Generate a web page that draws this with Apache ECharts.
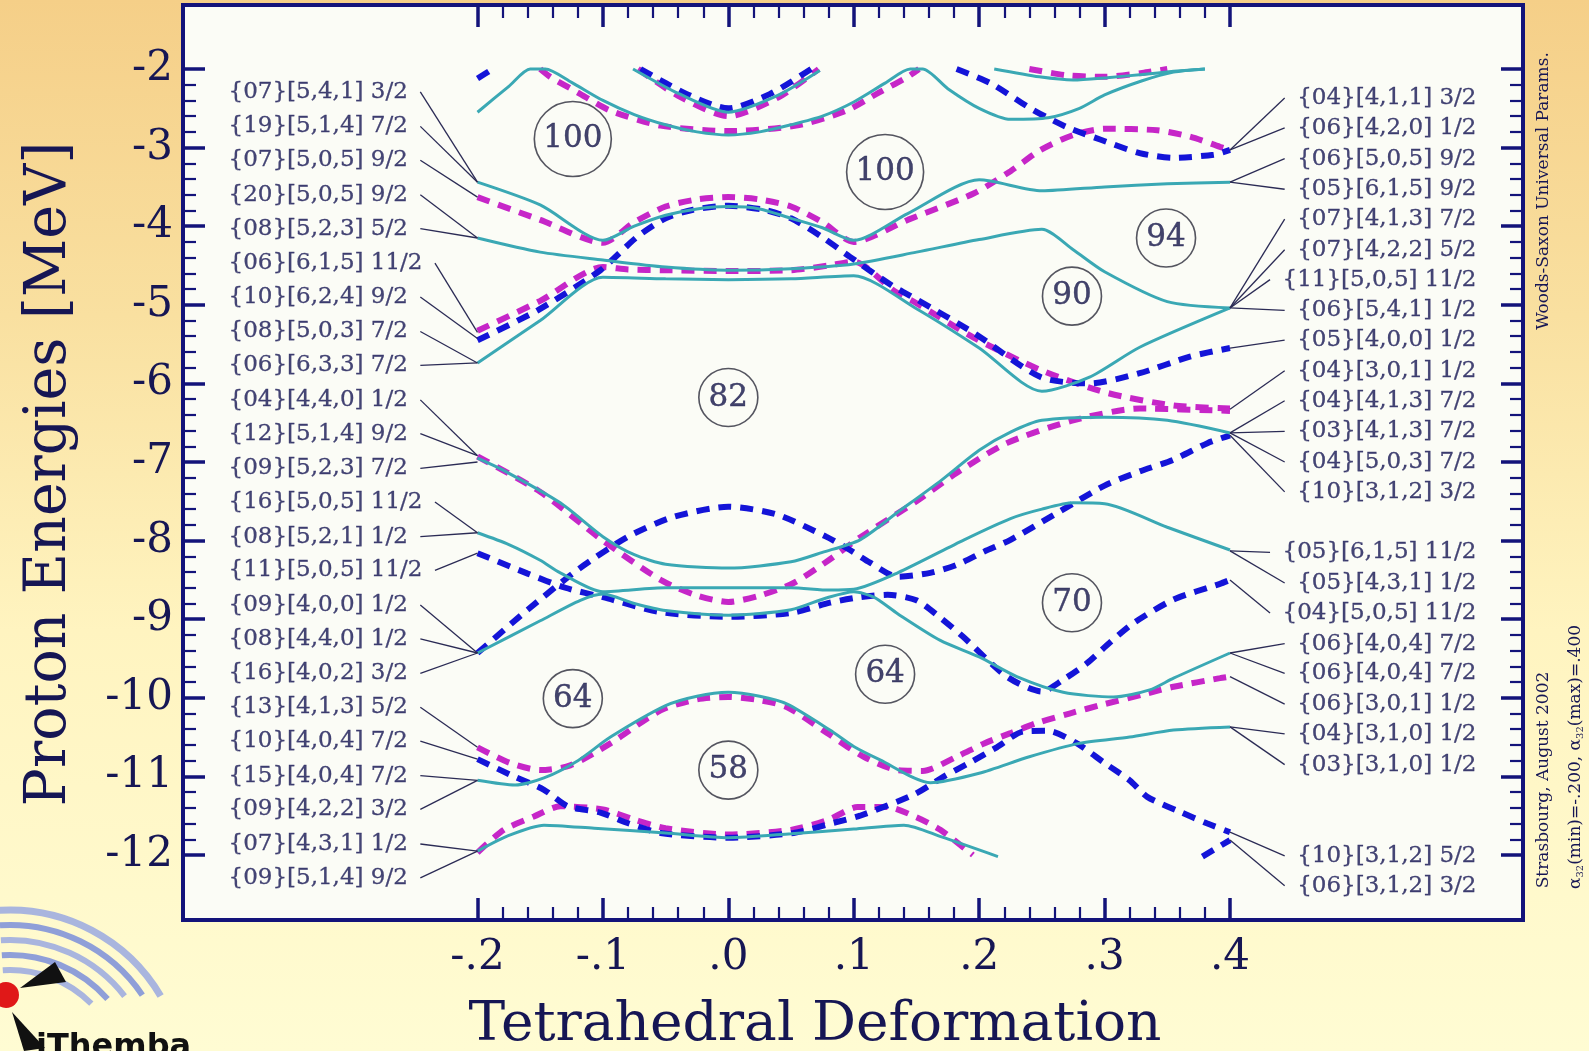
<!DOCTYPE html>
<html>
<head>
<meta charset="utf-8">
<title>Tetrahedral Deformation</title>
<script src="https://cdn.jsdelivr.net/npm/echarts@6/dist/echarts.min.js"></script>
<style>
  html, body { margin: 0; padding: 0; }
  #chart { width: 1589px; height: 1051px; }
</style>
</head>
<body>
<div id="chart"></div>
<script>
// ---- data: [deformation, energy MeV] ----
var cyan1 = [[-0.2,-2.55],[-0.175,-2.22],[-0.158,-2.0],[-0.146,-2.0],[-0.125,-2.17],[-0.1,-2.4],[-0.075,-2.58],[-0.05,-2.71],[-0.025,-2.8],[0,-2.84],[0.025,-2.8],[0.05,-2.71],[0.075,-2.6],[0.1,-2.42],[0.125,-2.18],[0.145,-2.0],[0.155,-2.0],[0.175,-2.25],[0.2,-2.5],[0.225,-2.64],[0.255,-2.62],[0.28,-2.5],[0.3,-2.33],[0.33,-2.15],[0.355,-2.04],[0.38,-2.0]];
var cyan2 = [[0.212,-2.0],[0.248,-2.1],[0.275,-2.14],[0.302,-2.11],[0.33,-2.07],[0.355,-2.03],[0.38,-2.0]];
var cyan3 = [[-0.076,-2.0],[-0.04,-2.31],[0,-2.55],[0.039,-2.34],[0.073,-2.02]];
var cyan4 = [[-0.2,-3.44],[-0.15,-3.73],[-0.1,-4.18],[-0.075,-4.0],[-0.05,-3.86],[-0.025,-3.78],[0,-3.75],[0.025,-3.78],[0.05,-3.9],[0.075,-4.02],[0.1,-4.18],[0.143,-3.84],[0.2,-3.41],[0.25,-3.55],[0.3,-3.5],[0.35,-3.46],[0.4,-3.44]];
var cyan5 = [[-0.2,-4.15],[-0.15,-4.33],[-0.1,-4.43],[-0.05,-4.52],[0,-4.56],[0.05,-4.54],[0.1,-4.48],[0.15,-4.33],[0.2,-4.17],[0.25,-4.04],[0.275,-4.3],[0.3,-4.58],[0.35,-4.96],[0.4,-5.04]];
var cyan6 = [[-0.2,-5.74],[-0.15,-5.2],[-0.1,-4.65],[-0.05,-4.67],[0,-4.68],[0.05,-4.67],[0.1,-4.63],[0.15,-5.05],[0.2,-5.55],[0.25,-6.1],[0.288,-5.92],[0.328,-5.54],[0.4,-5.04]];
var cyan7 = [[-0.2,-6.95],[-0.18,-7.1],[-0.134,-7.52],[-0.1,-7.95],[-0.075,-8.18],[-0.05,-8.3],[0,-8.35],[0.05,-8.27],[0.075,-8.15],[0.105,-7.99],[0.135,-7.64],[0.17,-7.23],[0.2,-6.85],[0.225,-6.62],[0.25,-6.47],[0.3,-6.43],[0.35,-6.47],[0.4,-6.63]];
var cyan8 = [[-0.2,-7.9],[-0.175,-8.05],[-0.15,-8.25],[-0.134,-8.41],[-0.1,-8.65],[-0.05,-8.6],[0,-8.6],[0.05,-8.6],[0.081,-8.63],[0.1,-8.62],[0.135,-8.41],[0.188,-7.99],[0.225,-7.72],[0.25,-7.6],[0.275,-7.52],[0.3,-7.53],[0.35,-7.83],[0.4,-8.12]];
var cyan9 = [[-0.2,-9.43],[-0.15,-9.02],[-0.118,-8.76],[-0.1,-8.68],[-0.075,-8.8],[-0.05,-8.89],[0,-8.95],[0.05,-8.88],[0.078,-8.73],[0.1,-8.65],[0.116,-8.72],[0.135,-8.93],[0.169,-9.27],[0.2,-9.48],[0.23,-9.73],[0.267,-9.93],[0.307,-9.99],[0.336,-9.9],[0.355,-9.75],[0.4,-9.43]];
var cyan10 = [[-0.2,-11.05],[-0.17,-11.11],[-0.147,-11.02],[-0.12,-10.8],[-0.094,-10.5],[-0.05,-10.1],[-0.025,-9.98],[0,-9.93],[0.025,-9.98],[0.047,-10.08],[0.081,-10.41],[0.1,-10.62],[0.121,-10.79],[0.161,-11.08],[0.2,-10.96],[0.24,-10.75],[0.28,-10.58],[0.32,-10.5],[0.355,-10.41],[0.4,-10.37]];
var cyan11 = [[-0.2,-11.95],[-0.175,-11.75],[-0.147,-11.62],[-0.107,-11.66],[-0.05,-11.72],[0,-11.78],[0.05,-11.73],[0.1,-11.67],[0.14,-11.62],[0.17,-11.77],[0.215,-12.02]];

var magenta1 = [[-0.15,-2.0],[-0.142,-2.1],[-0.12,-2.3],[-0.094,-2.53],[-0.054,-2.72],[0,-2.79],[0.054,-2.72],[0.094,-2.53],[0.12,-2.3],[0.143,-2.1],[0.152,-2.0]];
var magenta2 = [[-0.072,-2.0],[-0.04,-2.34],[0,-2.6],[0.04,-2.36],[0.072,-2.0]];
var magenta3 = [[0.24,-2.0],[0.27,-2.08],[0.3,-2.1],[0.33,-2.05],[0.35,-2.0]];
var magenta4 = [[-0.2,-3.63],[-0.15,-3.92],[-0.1,-4.21],[-0.075,-3.95],[-0.05,-3.75],[-0.025,-3.66],[0,-3.63],[0.025,-3.66],[0.05,-3.75],[0.075,-3.95],[0.1,-4.2],[0.143,-3.92],[0.196,-3.58],[0.225,-3.3],[0.249,-3.03],[0.275,-2.84],[0.3,-2.76],[0.342,-2.78],[0.368,-2.86],[0.392,-2.99],[0.4,-3.03]];
var magenta5 = [[-0.2,-5.33],[-0.15,-4.95],[-0.1,-4.52],[-0.08,-4.55],[-0.05,-4.56],[0,-4.57],[0.05,-4.56],[0.08,-4.5],[0.1,-4.45],[0.132,-4.82],[0.15,-4.98],[0.196,-5.42],[0.249,-5.83],[0.302,-6.12],[0.355,-6.28],[0.4,-6.32]];
var magenta6 = [[-0.2,-6.93],[-0.15,-7.38],[-0.1,-8.0],[-0.054,-8.5],[-0.025,-8.7],[0,-8.78],[0.025,-8.7],[0.052,-8.54],[0.08,-8.25],[0.105,-7.96],[0.15,-7.5],[0.182,-7.14],[0.222,-6.76],[0.275,-6.47],[0.328,-6.32],[0.4,-6.35]];
var magenta7 = [[-0.2,-10.63],[-0.174,-10.83],[-0.15,-10.92],[-0.126,-10.86],[-0.094,-10.58],[-0.054,-10.16],[-0.025,-10.02],[0,-9.99],[0.025,-10.03],[0.047,-10.12],[0.079,-10.45],[0.108,-10.75],[0.135,-10.92],[0.155,-10.93],[0.182,-10.75],[0.204,-10.58],[0.225,-10.45],[0.246,-10.32],[0.272,-10.2],[0.3,-10.08],[0.33,-9.96],[0.355,-9.86],[0.392,-9.75],[0.4,-9.73]];
var magenta8 = [[-0.2,-11.97],[-0.179,-11.68],[-0.155,-11.51],[-0.134,-11.38],[-0.1,-11.42],[-0.075,-11.55],[-0.05,-11.66],[0,-11.74],[0.05,-11.68],[0.08,-11.55],[0.103,-11.39],[0.127,-11.39],[0.15,-11.52],[0.169,-11.68],[0.195,-12.0]];

var blue1 = [[-0.2,-2.12],[-0.188,-2.0]];
var blue2 = [[-0.07,-2.0],[-0.033,-2.32],[0,-2.5],[0.033,-2.32],[0.066,-2.0]];
var blue3 = [[0.182,-2.0],[0.209,-2.18],[0.243,-2.52],[0.27,-2.74],[0.297,-2.9],[0.328,-3.07],[0.355,-3.13],[0.387,-3.09],[0.4,-3.03]];
var blue4 = [[-0.2,-5.45],[-0.152,-5.07],[-0.102,-4.56],[-0.073,-4.14],[-0.05,-3.9],[-0.028,-3.79],[0,-3.74],[0.028,-3.79],[0.05,-3.9],[0.075,-4.14],[0.097,-4.39],[0.132,-4.77],[0.15,-4.93],[0.196,-5.36],[0.249,-5.92],[0.288,-6.0],[0.328,-5.87],[0.368,-5.66],[0.4,-5.55]];
var blue5 = [[-0.2,-8.16],[-0.16,-8.42],[-0.13,-8.6],[-0.1,-8.72],[-0.054,-8.91],[0,-8.97],[0.05,-8.92],[0.081,-8.79],[0.105,-8.72],[0.127,-8.69],[0.15,-8.76],[0.169,-8.98],[0.187,-9.22],[0.222,-9.73],[0.25,-9.92],[0.267,-9.77],[0.286,-9.56],[0.304,-9.3],[0.323,-9.05],[0.355,-8.75],[0.392,-8.55],[0.4,-8.5]];
var blue6 = [[-0.2,-9.43],[-0.16,-8.88],[-0.12,-8.37],[-0.08,-7.95],[-0.044,-7.7],[0,-7.57],[0.039,-7.67],[0.078,-7.95],[0.097,-8.12],[0.113,-8.28],[0.135,-8.46],[0.161,-8.41],[0.182,-8.31],[0.204,-8.14],[0.225,-7.99],[0.262,-7.65],[0.3,-7.3],[0.328,-7.12],[0.355,-6.97],[0.382,-6.76],[0.4,-6.66]];
var blue7 = [[-0.2,-10.78],[-0.171,-11.0],[-0.147,-11.17],[-0.128,-11.38],[-0.102,-11.46],[-0.081,-11.59],[-0.054,-11.72],[0,-11.78],[0.052,-11.72],[0.084,-11.59],[0.105,-11.5],[0.148,-11.23],[0.172,-11.0],[0.193,-10.82],[0.214,-10.63],[0.235,-10.43],[0.255,-10.42],[0.278,-10.58],[0.3,-10.83],[0.32,-11.05],[0.334,-11.26],[0.36,-11.45],[0.382,-11.6],[0.4,-11.71]];
var blue8 = [[0.378,-12.02],[0.4,-11.81]];

// orbital labels on the left (start at -.2) and right (end at .4)
var leftLabels = ['{07}[5,4,1] 3/2','{19}[5,1,4] 7/2','{07}[5,0,5] 9/2','{20}[5,0,5] 9/2','{08}[5,2,3] 5/2','{06}[6,1,5] 11/2','{10}[6,2,4] 9/2','{08}[5,0,3] 7/2','{06}[6,3,3] 7/2','{04}[4,4,0] 1/2','{12}[5,1,4] 9/2','{09}[5,2,3] 7/2','{16}[5,0,5] 11/2','{08}[5,2,1] 1/2','{11}[5,0,5] 11/2','{09}[4,0,0] 1/2','{08}[4,4,0] 1/2','{16}[4,0,2] 3/2','{13}[4,1,3] 5/2','{10}[4,0,4] 7/2','{15}[4,0,4] 7/2','{09}[4,2,2] 3/2','{07}[4,3,1] 1/2','{09}[5,1,4] 9/2'];
var leftLabelY = [-2.29,-2.73,-3.16,-3.60,-4.03,-4.47,-4.90,-5.34,-5.77,-6.21,-6.64,-7.08,-7.51,-7.95,-8.38,-8.82,-9.25,-9.69,-10.12,-10.55,-10.99,-11.42,-11.86,-12.29];
var leftTargetY = [-3.44,-3.44,-3.63,-4.15,-4.15,-5.35,-5.43,-5.74,-5.74,-6.92,-6.92,-7.0,-7.9,-7.9,-8.16,-9.43,-9.43,-9.43,-10.63,-10.78,-11.05,-11.05,-11.95,-11.95];

var rightLabels = ['{04}[4,1,1] 3/2','{06}[4,2,0] 1/2','{06}[5,0,5] 9/2','{05}[6,1,5] 9/2','{07}[4,1,3] 7/2','{07}[4,2,2] 5/2','{11}[5,0,5] 11/2','{06}[5,4,1] 1/2','{05}[4,0,0] 1/2','{04}[3,0,1] 1/2','{04}[4,1,3] 7/2','{03}[4,1,3] 7/2','{04}[5,0,3] 7/2','{10}[3,1,2] 3/2','{05}[6,1,5] 11/2','{05}[4,3,1] 1/2','{04}[5,0,5] 11/2','{06}[4,0,4] 7/2','{06}[4,0,4] 7/2','{06}[3,0,1] 1/2','{04}[3,1,0] 1/2','{03}[3,1,0] 1/2','{10}[3,1,2] 5/2','{06}[3,1,2] 3/2'];
var rightLabelY = [-2.37,-2.75,-3.14,-3.53,-3.91,-4.30,-4.68,-5.07,-5.45,-5.84,-6.22,-6.61,-7.00,-7.38,-8.15,-8.54,-8.92,-9.31,-9.69,-10.08,-10.46,-10.85,-12.01,-12.39];
var rightTargetY = [-3.03,-3.03,-3.44,-3.44,-5.04,-5.04,-5.04,-5.04,-5.55,-6.33,-6.63,-6.63,-6.63,-6.66,-8.13,-8.13,-8.5,-9.43,-9.43,-9.73,-10.37,-10.37,-11.71,-11.81];

// shell gaps (circled particle numbers)
var gapNumbers = ['100','100','94','90','82','70','64','64','58'];
var gapX = [-0.124,0.125,0.349,0.274,0.0,0.274,-0.124,0.125,0.0];
var gapY = [-2.89,-3.31,-4.15,-4.89,-6.18,-8.79,-10.01,-9.70,-10.92];

// ---- layout ----
var NAVY = '#13137a';
var TEXT = '#161654';
var CYAN = '#3aa8b4';
var MAGENTA = '#c626c8';
var BLUE = '#1414d8';
var SERIF = '"DejaVu Serif", serif';
var LABEL_SIZE = 23;

var frame = {left: 183, top: 5, right: 1523, bottom: 920};
var tickBox = {left: 477.5, top: 69, right: 1230, bottom: 855};
var pxX = (tickBox.right - tickBox.left) / 0.6;
var pxY = (tickBox.bottom - tickBox.top) / 10;
var outer = {
  xMin: -0.2 - (tickBox.left - frame.left) / pxX,
  xMax: 0.4 + (frame.right - tickBox.right) / pxX,
  yMin: -12 - (frame.bottom - tickBox.bottom) / pxY,
  yMax: -2 + (tickBox.top - frame.top) / pxY
};
var LEFT_LABEL_X = -0.2 - (tickBox.left - 228) / pxX;
var RIGHT_LABEL_X = 0.4 + (1477 - tickBox.right) / pxX;

var chart = echarts.init(document.getElementById('chart'));

// 文字宽度，用来算引线起点
var ctx = document.createElement('canvas').getContext('2d');
ctx.font = LABEL_SIZE + 'px "DejaVu Serif"';
function textWidth(s) {
  return ctx.measureText(s).width;
}

function curve(data, color, dashed) {
  return {
    type: 'line',
    xAxisIndex: 0,
    yAxisIndex: 0,
    data: data,
    symbol: 'none',
    smooth: 0.25,
    silent: true,
    z: dashed ? 3 : 4,
    lineStyle: dashed
      ? {color: color, width: 6, type: [13, 9], cap: 'butt'}
      : {color: color, width: 3}
  };
}

var curveSeries = [];
[magenta1, magenta2, magenta3, magenta4, magenta5, magenta6, magenta7, magenta8].forEach(function (d) {
  curveSeries.push(curve(d, MAGENTA, true));
});
[blue1, blue2, blue3, blue4, blue5, blue6, blue7, blue8].forEach(function (d) {
  curveSeries.push(curve(d, BLUE, true));
});
[cyan1, cyan2, cyan3, cyan4, cyan5, cyan6, cyan7, cyan8, cyan9, cyan10, cyan11].forEach(function (d) {
  curveSeries.push(curve(d, CYAN, false));
});

// 引线
var leaders = [];
leftLabels.forEach(function (t, i) {
  var x0 = LEFT_LABEL_X + (textWidth(t) + 13) / pxX;
  leaders.push({coords: [[x0, leftLabelY[i]], [-0.2, leftTargetY[i]]]});
});
rightLabels.forEach(function (t, i) {
  var x0 = RIGHT_LABEL_X - (textWidth(t) + 13) / pxX;
  leaders.push({coords: [[x0, rightLabelY[i]], [0.4, rightTargetY[i]]]});
});

function labelSeries(names, xs, ys, side) {
  return {
    type: 'scatter',
    xAxisIndex: 0,
    yAxisIndex: 0,
    symbolSize: 1,
    silent: true,
    itemStyle: {color: 'rgba(0,0,0,0)'},
    data: names.map(function (t, i) { return [xs, ys[i], t]; }),
    label: {
      show: true,
      position: side,
      distance: 0,
      formatter: function (p) { return p.data[2]; },
      fontFamily: SERIF,
      fontSize: LABEL_SIZE,
      color: TEXT,
      textBorderColor: TEXT,
      textBorderWidth: 0.3
    },
    labelLayout: {hideOverlap: false},
    z: 6
  };
}

var tickStyle = {
  axisLine: {show: false, onZero: false},
  splitLine: {show: false},
  axisTick: {show: true, inside: true, length: 22, lineStyle: {color: NAVY, width: 3.5}},
  minorTick: {show: true, splitNumber: 5, length: 13, lineStyle: {color: NAVY, width: 2.2}}
};

function axis(base, extra) {
  var o = {};
  Object.keys(tickStyle).forEach(function (k) { o[k] = tickStyle[k]; });
  Object.keys(base).forEach(function (k) { o[k] = base[k]; });
  Object.keys(extra).forEach(function (k) { o[k] = extra[k]; });
  return o;
}

var xBase = {gridIndex: 1, type: 'value', min: -0.2, max: 0.4, interval: 0.1};
var yBase = {gridIndex: 1, type: 'value', min: -12, max: -2, interval: 1};

var option = {
  animation: false,
  backgroundColor: {
    type: 'linear', x: 0, y: 0, x2: 0, y2: 1,
    colorStops: [
      {offset: 0, color: '#f5cf88'},
      {offset: 0.3, color: '#f9e0a0'},
      {offset: 0.6, color: '#fff4c0'},
      {offset: 1, color: '#fffcd3'}
    ]
  },
  grid: [
    {
      left: frame.left, top: frame.top,
      width: frame.right - frame.left, height: frame.bottom - frame.top,
      show: true, backgroundColor: '#fbfcf6', borderColor: NAVY, borderWidth: 4
    },
    {
      left: tickBox.left, top: tickBox.top,
      width: tickBox.right - tickBox.left, height: tickBox.bottom - tickBox.top
    }
  ],
  xAxis: [
    {gridIndex: 0, type: 'value', min: outer.xMin, max: outer.xMax, show: false},
    axis(xBase, {
      position: 'bottom', offset: frame.bottom - tickBox.bottom,
      axisLabel: {
        fontFamily: SERIF, fontSize: 42, color: TEXT, margin: 17,
        formatter: function (v) {
          var s = '.' + Math.round(Math.abs(v) * 10);
          return v < -1e-9 ? '-' + s : s;
        }
      }
    }),
    axis(xBase, {position: 'top', offset: tickBox.top - frame.top, axisLabel: {show: false}})
  ],
  yAxis: [
    {gridIndex: 0, type: 'value', min: outer.yMin, max: outer.yMax, show: false},
    axis(yBase, {
      position: 'left', offset: tickBox.left - frame.left,
      axisLabel: {fontFamily: SERIF, fontSize: 42, color: TEXT, margin: 10}
    }),
    axis(yBase, {position: 'right', offset: frame.right - tickBox.right, axisLabel: {show: false}})
  ],
  graphic: [
    {
      type: 'text', x: 50, y: 474, rotation: Math.PI / 2,
      style: {text: 'Proton Energies [MeV]', font: '57px ' + SERIF, fill: TEXT, align: 'center', verticalAlign: 'middle'}
    },
    {
      type: 'text', x: 815, y: 1026,
      style: {text: 'Tetrahedral Deformation', font: '55px ' + SERIF, fill: TEXT, align: 'center', verticalAlign: 'middle'}
    },
    {
      type: 'text', x: 1544, y: 191, rotation: Math.PI / 2,
      style: {text: 'Woods-Saxon Universal Params.', font: '17px ' + SERIF, fill: TEXT, align: 'center', verticalAlign: 'middle'}
    },
    {
      type: 'text', x: 1544, y: 780, rotation: Math.PI / 2,
      style: {text: 'Strasbourg, August 2002', font: '17px ' + SERIF, fill: TEXT, align: 'center', verticalAlign: 'middle'}
    },
    {
      type: 'text', x: 1576, y: 757, rotation: Math.PI / 2,
      style: {
        text: '{a|α}{s|32}{a|(min)=-.200, α}{s|32}{a|(max)=.400}',
        align: 'center', verticalAlign: 'middle',
        rich: {
          a: {fontFamily: SERIF, fontSize: 17, fill: TEXT},
          s: {fontFamily: SERIF, fontSize: 10, fill: TEXT, verticalAlign: 'bottom', padding: [8, 0, 0, 0]}
        }
      }
    },
    // iThemba logo
    {
      type: 'group', children: [
        {type: 'arc', shape: {cx: 10, cy: 1085, r: 175, startAngle: -Math.PI * 0.52, endAngle: -Math.PI * 0.17}, style: {stroke: '#a9b5de', lineWidth: 7, fill: null}},
        {type: 'arc', shape: {cx: 10, cy: 1085, r: 160, startAngle: -Math.PI * 0.52, endAngle: -Math.PI * 0.19}, style: {stroke: '#8f9fd8', lineWidth: 6, fill: null}},
        {type: 'arc', shape: {cx: 10, cy: 1085, r: 145, startAngle: -Math.PI * 0.52, endAngle: -Math.PI * 0.21}, style: {stroke: '#a9b5de', lineWidth: 6, fill: null}},
        {type: 'arc', shape: {cx: 10, cy: 1085, r: 130, startAngle: -Math.PI * 0.52, endAngle: -Math.PI * 0.23}, style: {stroke: '#8f9fd8', lineWidth: 6, fill: null}},
        {type: 'arc', shape: {cx: 10, cy: 1085, r: 115, startAngle: -Math.PI * 0.52, endAngle: -Math.PI * 0.25}, style: {stroke: '#a9b5de', lineWidth: 6, fill: null}},
        {type: 'polygon', shape: {points: [[20, 988], [55, 962], [66, 982]]}, style: {fill: '#111'}},
        {type: 'polygon', shape: {points: [[12, 1012], [45, 1048], [24, 1051]]}, style: {fill: '#111'}},
        {type: 'circle', shape: {cx: 6, cy: 995, r: 13}, style: {fill: '#e01818'}},
        {type: 'text', x: 36, y: 1032, style: {text: 'iThemba', font: 'bold 32px "DejaVu Sans", sans-serif', fill: '#111'}}
      ]
    }
  ],
  series: curveSeries.concat([
    {
      type: 'lines',
      coordinateSystem: 'cartesian2d',
      xAxisIndex: 0,
      yAxisIndex: 0,
      silent: true,
      data: leaders,
      lineStyle: {color: '#2b2b55', width: 1.3, opacity: 1},
      z: 5
    },
    labelSeries(leftLabels, LEFT_LABEL_X, leftLabelY, 'right'),
    labelSeries(rightLabels, RIGHT_LABEL_X, rightLabelY, 'left'),
    {
      type: 'scatter',
      xAxisIndex: 0,
      yAxisIndex: 0,
      silent: true,
      data: gapNumbers.map(function (n, i) { return [gapX[i], gapY[i], n]; }),
      symbol: 'circle',
      symbolSize: function (v) { return v[2].length > 2 ? [77, 75] : [59, 58]; },
      itemStyle: {color: 'rgba(0,0,0,0)', borderColor: '#2a2a3a', borderWidth: 1.6},
      label: {
        show: true, position: 'inside',
        formatter: function (p) { return p.data[2]; },
        fontFamily: SERIF, fontSize: 31, color: '#141448',
        textBorderColor: '#141448', textBorderWidth: 0.4
      },
      z: 7
    }
  ])
};

chart.setOption(option);
</script>
</body>
</html>
